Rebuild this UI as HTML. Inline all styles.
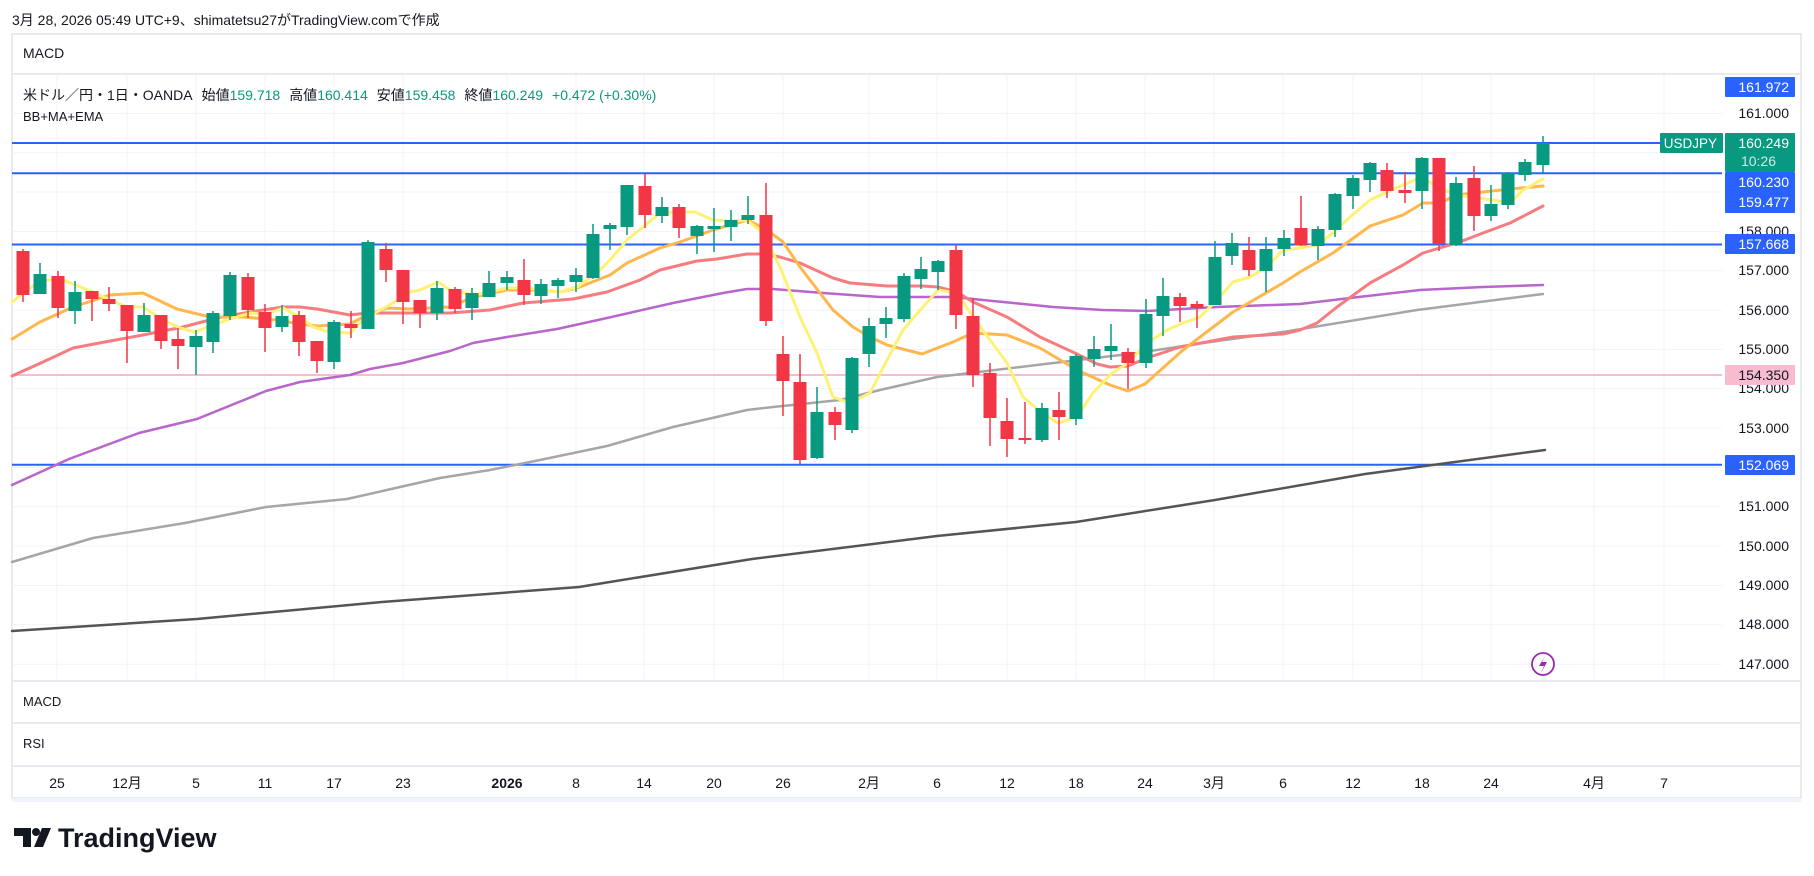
<!DOCTYPE html>
<html><head><meta charset="utf-8"><style>
html,body{margin:0;padding:0;background:#fff;}
svg{display:block;font-family:"Liberation Sans","Noto Sans CJK JP",sans-serif;}
</style></head><body>
<svg width="1814" height="876" viewBox="0 0 1814 876" xmlns="http://www.w3.org/2000/svg">
<rect width="1814" height="876" fill="#fff"/>
<text x="12" y="25" font-size="14" fill="#131722">3月 28, 2026 05:49 UTC+9、shimatetsu27がTradingView.comで作成</text>
<rect x="12" y="34" width="1789" height="764" fill="#fff" stroke="#e0e3eb" stroke-width="1.5"/>
<g stroke="#f0f3fa" stroke-width="1">
<path d="M57 74V681M127 74V681M196 74V681M265 74V681M334 74V681M403 74V681M507 74V681M576 74V681M644 74V681M714 74V681M783 74V681M869 74V681M937 74V681M1007 74V681M1076 74V681M1145 74V681M1214 74V681M1283 74V681M1353 74V681M1422 74V681M1491 74V681M1594 74V681M1664 74V681"/>
<path d="M12 113.4H1722M12 152.7H1722M12 192H1722M12 231.4H1722M12 270.7H1722M12 310.1H1722M12 349.4H1722M12 388.8H1722M12 428.1H1722M12 467.5H1722M12 506.8H1722M12 546.1H1722M12 585.5H1722M12 624.8H1722M12 664.2H1722"/>
</g>
<g stroke="#e0e3eb" stroke-width="1.5">
<path d="M12 74H1801M12 681H1801M12 723H1801M12 766H1801"/>
</g>
<rect x="12" y="798" width="1789" height="4" fill="#f0f3fa"/>
<text x="23" y="58" font-size="14" fill="#131722">MACD</text>
<text x="23" y="100" font-size="14" fill="#131722">米ドル／円・1日・OANDA<tspan dx="9">始値</tspan><tspan fill="#089981">159.718</tspan><tspan dx="9">高値</tspan><tspan fill="#089981">160.414</tspan><tspan dx="9">安値</tspan><tspan fill="#089981">159.458</tspan><tspan dx="9">終値</tspan><tspan fill="#089981">160.249</tspan><tspan dx="9" fill="#089981">+0.472 (+0.30%)</tspan></text>
<text x="23" y="121" font-size="13" fill="#131722">BB+MA+EMA</text>
<text x="23" y="706" font-size="13" fill="#131722">MACD</text>
<text x="23" y="748" font-size="13" fill="#131722">RSI</text>
<line x1="12" y1="375" x2="1722" y2="375" stroke="#f8bbd0" stroke-width="2"/>
<g stroke="#2962ff" stroke-width="2">
<line x1="12" y1="143" x2="1663" y2="143"/>
<line x1="12" y1="173.3" x2="1722" y2="173.3"/>
<line x1="12" y1="244.5" x2="1722" y2="244.5"/>
<line x1="12" y1="464.7" x2="1722" y2="464.7"/>
</g>
<g fill="none" stroke-width="3" stroke-linejoin="round" stroke-linecap="round">
<polyline stroke="#555" stroke-width="2.5" points="12,631 197,619 382,602 579,587 752,559 937,536 1076,522 1215,500 1365,474 1545,450"/>
<polyline stroke="#a6a6a8" stroke-width="2.5" points="12,562 93,538 185,523 266,507 347,499 440,478 490,470 540,460 607,446 673,427 747,410 773,407 840,400 880,390 937,377 1037,365 1137,353 1203,343 1283,332 1417,310 1543,294"/>
<polyline stroke="#b865cc" stroke-width="2.5" points="12,485 69,459 139,433 197,419 266,391 300,382 350,375 370,369 403,363 450,351 473,343 507,337 557,329 607,318 673,303 723,293 747,289 773,289 823,293 880,297 953,297 1003,302 1053,307 1103,310 1147,311 1217,307 1300,304 1350,298 1420,290 1483,287 1543,285"/>
<polyline stroke="#f77c80" points="12,376 43,362 73,348 110,341 143,335 183,327 217,318 250,312 283,307 300,307 317,309 350,315 367,313 450,313 490,310 523,303 573,299 607,292 640,280 660,270 697,261 717,259 747,254 763,254 780,257 800,263 833,278 850,283 887,286 922,286 938,287 957,292 973,302 1007,317 1040,337 1077,354 1097,364 1110,367 1128,366 1147,358 1180,347 1233,337 1283,334 1300,330 1317,323 1337,307 1370,283 1403,265 1423,253 1443,247 1457,243 1483,233 1510,223 1543,206"/>
<polyline stroke="#ffb74d" points="12,339 40,322 73,307 110,295 143,293 177,309 210,317 243,317 277,320 300,324 317,326 350,324 367,315 387,308 410,309 450,307 473,297 507,290 540,290 560,292 577,288 610,275 627,263 660,248 680,242 713,230 730,225 748,220 767,230 783,242 800,267 833,310 853,327 870,337 887,345 922,354 953,342 973,333 1007,335 1040,348 1077,370 1110,385 1128,391 1145,384 1183,350 1233,312 1283,283 1300,272 1333,253 1370,226 1403,215 1423,203 1440,203 1457,195 1483,192 1510,189 1543,186"/>
<polyline stroke="#fff176" points="12,302 30,288 43,280 63,280 93,292 110,300 127,307 143,307 163,320 180,328 195,332 210,326 230,319 250,313 267,314 283,308 300,317 313,327 330,332 350,333 363,320 377,312 398,300 410,292 420,290 438,282 450,290 473,295 490,292 507,288 527,288 547,291 560,292 577,287 597,273 610,260 627,240 643,227 660,213 677,212 695,212 713,220 730,221 747,220 763,233 780,267 800,317 817,353 833,397 850,403 870,393 887,360 903,330 922,308 938,290 957,293 973,317 990,340 1007,363 1023,397 1042,413 1058,423 1077,417 1093,393 1112,373 1128,363 1147,343 1167,330 1183,323 1200,317 1217,300 1233,282 1250,277 1267,267 1283,250 1300,248 1317,245 1333,233 1350,217 1370,200 1387,192 1403,185 1422,177 1437,187 1457,195 1477,198 1493,200 1510,203 1523,190 1543,179"/>
</g>
<g fill="#089981" stroke="#089981">
<path stroke-width="1.5" fill="none" d="M40 263V294M75 281V324M144 303V332M196 330V375M213 311V353M230 272V320M282 305V332M334 320V369M368 240V329M437 281V320M472 288V320M489 271V297M507 271V290M541 279V304M558 278V298M576 268V292M593 224V279M610 223V250M627 185V235M662 197V223M697 225V254M714 208V252M731 210V241M748 196V224M817 387V459M852 357V433M869 318V367M886 307V338M904 273V322M921 257V289M938 260V290M1042 403V442M1076 354V425M1094 336V367M1111 324V360M1146 299V368M1163 278V336M1215 241V305M1232 233V265M1266 237V292M1284 230V256M1318 226V260M1335 193V237M1353 175V209M1370 162V192M1422 157V209M1456 177V246M1491 185V221M1508 172V209M1525 159V181M1543 136V173"/>
<g stroke="none">
<rect x="33.5" y="274" width="13" height="20"/><rect x="68.5" y="292" width="13" height="19"/><rect x="137.5" y="315" width="13" height="17"/><rect x="189.5" y="336" width="13" height="11"/><rect x="206.5" y="313" width="13" height="29"/><rect x="223.5" y="275" width="13" height="41"/><rect x="275.5" y="316" width="13" height="11"/><rect x="327.5" y="322" width="13" height="40"/><rect x="361.5" y="242" width="13" height="87"/><rect x="430.5" y="288" width="13" height="25"/><rect x="465.5" y="293" width="13" height="15"/><rect x="482.5" y="283" width="13" height="14"/><rect x="500.5" y="277" width="13" height="6"/><rect x="534.5" y="284" width="13" height="12"/><rect x="551.5" y="280" width="13" height="6"/><rect x="569.5" y="275" width="13" height="7"/><rect x="586.5" y="234" width="13" height="44"/><rect x="603.5" y="225" width="13" height="4"/><rect x="620.5" y="185" width="13" height="42"/><rect x="655.5" y="207" width="13" height="9"/><rect x="690.5" y="226" width="13" height="10"/><rect x="707.5" y="226" width="13" height="3"/><rect x="724.5" y="220" width="13" height="7"/><rect x="741.5" y="215" width="13" height="5"/><rect x="810.5" y="412" width="13" height="46"/><rect x="845.5" y="358" width="13" height="72"/><rect x="862.5" y="326" width="13" height="28"/><rect x="879.5" y="318" width="13" height="6"/><rect x="897.5" y="276" width="13" height="43"/><rect x="914.5" y="269" width="13" height="10"/><rect x="931.5" y="261" width="13" height="11"/><rect x="1035.5" y="408" width="13" height="32"/><rect x="1069.5" y="356" width="13" height="63"/><rect x="1087.5" y="349" width="13" height="10"/><rect x="1104.5" y="346" width="13" height="5"/><rect x="1139.5" y="314" width="13" height="49"/><rect x="1156.5" y="296" width="13" height="20"/><rect x="1208.5" y="257" width="13" height="48"/><rect x="1225.5" y="243" width="13" height="13"/><rect x="1259.5" y="249" width="13" height="22"/><rect x="1277.5" y="238" width="13" height="11"/><rect x="1311.5" y="229" width="13" height="17"/><rect x="1328.5" y="194" width="13" height="36"/><rect x="1346.5" y="178" width="13" height="18"/><rect x="1363.5" y="163" width="13" height="17"/><rect x="1415.5" y="158" width="13" height="33"/><rect x="1449.5" y="183" width="13" height="62"/><rect x="1484.5" y="204" width="13" height="12"/><rect x="1501.5" y="173" width="13" height="32"/><rect x="1518.5" y="162" width="13" height="13"/><rect x="1536.5" y="143" width="13" height="22"/>
</g></g>
<g fill="#f23645">
<path stroke="#f23645" stroke-width="1.5" fill="none" d="M23 249V302M58 271V318M92 291V321M109 287V311M127 305V363M161 315V349M178 328V369M248 273V318M265 304V352M299 311V356M317 341V373M351 311V338M386 243V282M403 270V324M420 300V328M455 287V313M524 259V305M645 174V228M679 204V238M766 183V326M783 336V416M800 354V464M835 407V440M956 245V329M973 298V387M990 363V446M1007 398V457M1025 402V444M1059 392V440M1128 348V389M1180 293V322M1197 301V328M1249 237V276M1301 196V246M1387 163V198M1405 172V203M1439 158V251M1474 166V231"/>
<rect x="16.5" y="251" width="13" height="44"/><rect x="51.5" y="276" width="13" height="32"/><rect x="85.5" y="291" width="13" height="8"/><rect x="102.5" y="299" width="13" height="5"/><rect x="120.5" y="305" width="13" height="26"/><rect x="154.5" y="315" width="13" height="26"/><rect x="171.5" y="339" width="13" height="7"/><rect x="241.5" y="277" width="13" height="33"/><rect x="258.5" y="312" width="13" height="16"/><rect x="292.5" y="315" width="13" height="27"/><rect x="310.5" y="341" width="13" height="20"/><rect x="344.5" y="324" width="13" height="4"/><rect x="379.5" y="249" width="13" height="21"/><rect x="396.5" y="270" width="13" height="32"/><rect x="413.5" y="300" width="13" height="13"/><rect x="448.5" y="289" width="13" height="20"/><rect x="517.5" y="280" width="13" height="15"/><rect x="638.5" y="186" width="13" height="29"/><rect x="672.5" y="207" width="13" height="21"/><rect x="759.5" y="215" width="13" height="106"/><rect x="776.5" y="354" width="13" height="27"/><rect x="793.5" y="382" width="13" height="78"/><rect x="828.5" y="412" width="13" height="13"/><rect x="949.5" y="250" width="13" height="65"/><rect x="966.5" y="316" width="13" height="59"/><rect x="983.5" y="373" width="13" height="45"/><rect x="1000.5" y="421" width="13" height="18"/><rect x="1018.5" y="438" width="13" height="2"/><rect x="1052.5" y="410" width="13" height="7"/><rect x="1121.5" y="352" width="13" height="11"/><rect x="1173.5" y="297" width="13" height="9"/><rect x="1190.5" y="304" width="13" height="4"/><rect x="1242.5" y="250" width="13" height="20"/><rect x="1294.5" y="228" width="13" height="17"/><rect x="1380.5" y="170" width="13" height="21"/><rect x="1398.5" y="190" width="13" height="3"/><rect x="1432.5" y="158" width="13" height="86"/><rect x="1467.5" y="178" width="13" height="38"/>
</g>
<circle cx="1543" cy="664" r="11" fill="#fff" stroke="#9c27b0" stroke-width="1.8"/>
<path d="M1545 656L1539 666H1544L1541 673L1547 662H1542Z" fill="#9c27b0"/>
<g font-size="14" fill="#131722" text-anchor="end">
<text x="1789" y="118">161.000</text>
<text x="1789" y="236">158.000</text>
<text x="1789" y="275">157.000</text>
<text x="1789" y="315">156.000</text>
<text x="1789" y="354">155.000</text>
<text x="1789" y="393">154.000</text>
<text x="1789" y="433">153.000</text>
<text x="1789" y="511">151.000</text>
<text x="1789" y="551">150.000</text>
<text x="1789" y="590">149.000</text>
<text x="1789" y="629">148.000</text>
<text x="1789" y="669">147.000</text>
</g>
<g font-size="14" text-anchor="end">
<rect x="1725" y="77" width="70" height="20" rx="1" fill="#2962ff"/><text x="1789" y="92" fill="#fff">161.972</text>
<rect x="1660" y="133" width="63" height="20" rx="1" fill="#089981"/><text x="1717" y="148" fill="#fff" font-size="13.5">USDJPY</text>
<rect x="1725" y="133" width="70" height="39" rx="1" fill="#089981"/><text x="1789" y="148" fill="#fff">160.249</text><text x="1776" y="166" fill="#c8ede6">10:26</text>
<rect x="1725" y="172" width="70" height="41" rx="1" fill="#2962ff"/><text x="1789" y="187" fill="#fff">160.230</text><text x="1789" y="207" fill="#fff">159.477</text>
<rect x="1725" y="234" width="70" height="20" rx="1" fill="#2962ff"/><text x="1789" y="249" fill="#fff">157.668</text>
<rect x="1725" y="365" width="70" height="20" rx="1" fill="#f8bbd0"/><text x="1789" y="380" fill="#131722">154.350</text>
<rect x="1725" y="455" width="70" height="20" rx="1" fill="#2962ff"/><text x="1789" y="470" fill="#fff">152.069</text>
</g>
<g font-size="14" fill="#131722" text-anchor="middle">
<text x="57" y="788">25</text><text x="127" y="788">12月</text><text x="196" y="788">5</text><text x="265" y="788">11</text><text x="334" y="788">17</text><text x="403" y="788">23</text><text x="507" y="788" font-weight="bold">2026</text><text x="576" y="788">8</text><text x="644" y="788">14</text><text x="714" y="788">20</text><text x="783" y="788">26</text><text x="869" y="788">2月</text><text x="937" y="788">6</text><text x="1007" y="788">12</text><text x="1076" y="788">18</text><text x="1145" y="788">24</text><text x="1214" y="788">3月</text><text x="1283" y="788">6</text><text x="1353" y="788">12</text><text x="1422" y="788">18</text><text x="1491" y="788">24</text><text x="1594" y="788">4月</text><text x="1664" y="788">7</text>
</g>
<g fill="#131722">
<path d="M14 828H31V847H23V836H14Z"/>
<circle cx="36" cy="832" r="4"/>
<path d="M42 828H51L43 847H34Z"/>
</g>
<text x="58" y="847" font-size="27" font-weight="bold" fill="#131722">TradingView</text>
</svg>
</body></html>
